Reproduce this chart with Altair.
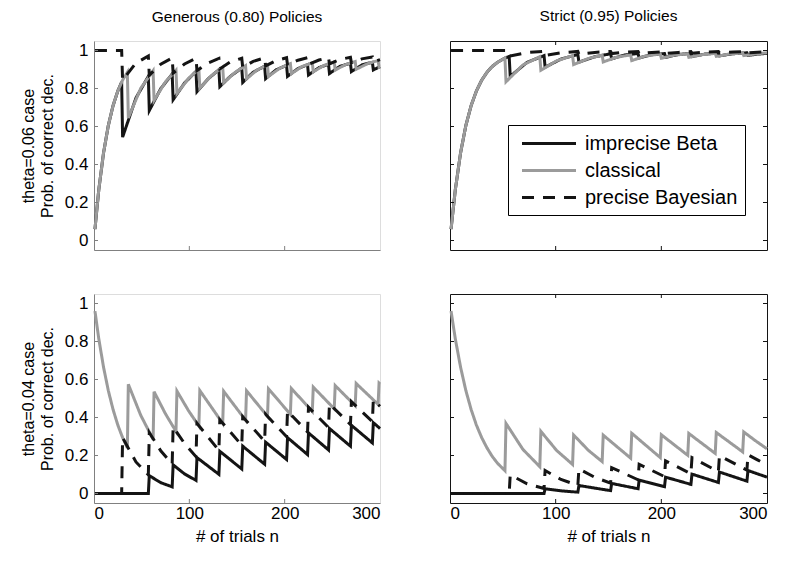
import altair as alt
import pandas as pd

# ---------------- data ----------------
# theta = 0.06 case, Generous (0.80) policy
TL_black_n = [1, 5, 10, 15, 20, 25, 29, 30, 44, 57, 58, 70, 82, 83, 95, 107, 108, 120, 131, 132, 143, 155,
              156, 167, 179, 180, 191, 202, 203, 214, 224, 225, 236, 246, 247, 258, 269, 270, 281, 292, 293, 300]
TL_black_v = [0.06, 0.266, 0.461, 0.605, 0.710, 0.787, 0.834, 0.544, 0.750, 0.864, 0.684, 0.799, 0.876,
              0.741, 0.829, 0.890, 0.783, 0.852, 0.899, 0.810, 0.864, 0.908, 0.832, 0.886, 0.917,
              0.852, 0.898, 0.922, 0.864, 0.905, 0.925, 0.871, 0.910, 0.928, 0.879, 0.917, 0.933,
              0.889, 0.924, 0.938, 0.898, 0.915]
TL_gray_n = [1, 5, 10, 15, 20, 25, 30, 35, 36, 49, 62, 63, 75, 86, 87, 99, 110, 111, 123, 135, 136, 148, 159,
             160, 171, 182, 183, 195, 206, 207, 218, 229, 230, 241, 252, 253, 264, 274, 275, 287, 298, 299, 300]
TL_gray_v = [0.06, 0.266, 0.461, 0.605, 0.710, 0.787, 0.844, 0.885, 0.645, 0.801, 0.893, 0.737, 0.835, 0.896,
             0.773, 0.852, 0.902, 0.802, 0.867, 0.913, 0.831, 0.885, 0.920, 0.851, 0.897, 0.924,
             0.864, 0.907, 0.931, 0.878, 0.915, 0.935, 0.888, 0.921, 0.940, 0.897, 0.926, 0.942,
             0.901, 0.931, 0.947, 0.913, 0.915]
TL_dash_n = [1, 29, 30, 44, 57, 58, 70, 82, 83, 95, 107, 108, 120, 131, 132, 143, 155, 156, 167, 179,
             180, 191, 202, 203, 214, 224, 225, 236, 246, 247, 258, 269, 270, 281, 292, 293, 300]
TL_dash_v = [1, 1, 0.844, 0.934, 0.971, 0.870, 0.928, 0.961, 0.881, 0.929, 0.959, 0.894, 0.934, 0.958,
             0.903, 0.940, 0.959, 0.911, 0.943, 0.961, 0.919, 0.947, 0.962, 0.924, 0.949, 0.962,
             0.927, 0.950, 0.962, 0.930, 0.953, 0.964, 0.935, 0.956, 0.966, 0.940, 0.952]

# theta = 0.04 case, Generous (0.80) policy
BL_black_n = [1, 57, 58, 70, 82, 83, 95, 107, 108, 131, 132, 155, 156, 179, 180, 202, 203, 224,
              225, 246, 247, 269, 270, 292, 293, 300]
BL_black_v = [0, 0, 0.094, 0.057, 0.035, 0.151, 0.103, 0.069, 0.189, 0.101, 0.222, 0.129, 0.249, 0.154,
              0.270, 0.179, 0.294, 0.205, 0.319, 0.229, 0.342, 0.249, 0.359, 0.266, 0.373, 0.342]
BL_gray_n = [1, 5, 10, 15, 20, 25, 30, 35, 36, 49, 62, 63, 75, 86, 87, 99, 110, 111, 135, 136, 159,
             160, 182, 183, 206, 207, 229, 230, 252, 253, 274, 275, 298, 299, 300]
BL_gray_v = [0.96, 0.815, 0.665, 0.542, 0.442, 0.360, 0.294, 0.240, 0.575, 0.412, 0.285, 0.536, 0.419, 0.327,
             0.539, 0.437, 0.355, 0.542, 0.369, 0.538, 0.386, 0.541, 0.406, 0.551, 0.417, 0.553, 0.432,
             0.560, 0.446, 0.568, 0.462, 0.579, 0.469, 0.581, 0.576]
BL_dash_n = [1, 29, 30, 44, 57, 58, 70, 82, 83, 95, 107, 108, 131, 132, 155, 156, 179, 180, 202,
             203, 224, 225, 246, 247, 269, 270, 292, 293, 300]
BL_dash_v = [0, 0, 0.294, 0.166, 0.098, 0.320, 0.225, 0.155, 0.350, 0.263, 0.194, 0.369, 0.227, 0.388, 0.254,
             0.404, 0.275, 0.417, 0.299, 0.434, 0.324, 0.454, 0.347, 0.472, 0.363, 0.483, 0.378, 0.493, 0.459]

# theta = 0.06 case, Strict (0.95) policy
TR_black_n = [1, 5, 10, 15, 20, 25, 30, 35, 40, 45, 52, 56, 57, 73, 89, 90, 105, 121, 122, 137, 152,
              153, 165, 178, 179, 191, 203, 204, 216, 228, 229, 241, 254, 255, 268, 281, 282, 291, 300]
TR_black_v = [0.06, 0.266, 0.461, 0.605, 0.710, 0.787, 0.844, 0.885, 0.916, 0.938, 0.960, 0.969,
              0.864, 0.938, 0.973, 0.912, 0.955, 0.979, 0.939, 0.967, 0.983, 0.956, 0.976, 0.984,
              0.961, 0.978, 0.984, 0.964, 0.979, 0.985, 0.968, 0.981, 0.987, 0.972, 0.983, 0.988,
              0.974, 0.981, 0.985]
TR_gray_n = [1, 5, 10, 15, 20, 25, 30, 35, 40, 45, 52, 53, 69, 85, 86, 101, 116, 117, 131, 144,
             145, 158, 171, 172, 185, 199, 200, 212, 225, 226, 238, 251, 252, 264, 277, 278, 289, 300]
TR_gray_v = [0.06, 0.266, 0.461, 0.605, 0.710, 0.787, 0.844, 0.885, 0.916, 0.938, 0.960,
             0.835, 0.924, 0.967, 0.896, 0.946, 0.973, 0.926, 0.958, 0.976, 0.940, 0.965, 0.977,
             0.947, 0.971, 0.982, 0.959, 0.975, 0.983, 0.964, 0.978, 0.985, 0.969, 0.981, 0.987,
             0.973, 0.982, 0.988]
TR_dash_n = [1, 56, 57, 73, 89, 90, 105, 121, 122, 137, 152, 153, 165, 178, 179, 191, 203,
             204, 216, 228, 229, 241, 254, 255, 268, 281, 282, 291, 300]
TR_dash_v = [1, 1, 0.971, 0.989, 0.996, 0.974, 0.988, 0.995, 0.980, 0.990, 0.995, 0.984, 0.991, 0.995,
             0.984, 0.990, 0.994, 0.985, 0.990, 0.994, 0.986, 0.991, 0.995, 0.987, 0.992, 0.995,
             0.988, 0.991, 0.994]

# theta = 0.04 case, Strict (0.95) policy
BR_black_n = [1, 89, 90, 105, 121, 122, 152, 153, 178, 179, 203, 204, 228, 229, 254, 255, 281, 282, 300]
BR_black_v = [0, 0, 0.025, 0.014, 0.007, 0.042, 0.015, 0.053, 0.025, 0.070, 0.036, 0.086, 0.048,
              0.102, 0.058, 0.113, 0.065, 0.121, 0.086]
BR_gray_n = [1, 5, 10, 15, 20, 25, 30, 35, 40, 45, 52, 53, 69, 85, 86, 101, 116, 117, 131, 144,
             145, 171, 172, 199, 200, 225, 226, 251, 252, 277, 278, 289, 300]
BR_gray_v = [0.96, 0.815, 0.665, 0.542, 0.442, 0.360, 0.294, 0.240, 0.195, 0.159, 0.120,
             0.369, 0.232, 0.141, 0.327, 0.226, 0.153, 0.308, 0.227, 0.168, 0.307, 0.186,
             0.317, 0.189, 0.309, 0.201, 0.316, 0.211, 0.321, 0.219, 0.324, 0.278, 0.235]
BR_dash_n = [1, 56, 57, 73, 89, 90, 105, 121, 122, 137, 152, 153, 178, 179, 203, 204, 228,
             229, 254, 255, 281, 282, 291, 300]
BR_dash_v = [0, 0, 0.098, 0.051, 0.026, 0.121, 0.074, 0.043, 0.130, 0.085, 0.055, 0.136, 0.072,
             0.154, 0.089, 0.172, 0.104, 0.189, 0.115, 0.199, 0.123, 0.204, 0.177, 0.151]

SERIES = ["imprecise Beta", "classical", "precise Bayesian"]
COL_TITLES = ["Generous (0.80) Policies", "Strict (0.95) Policies"]
ROW_TITLES = [["theta=0.06 case", "Prob. of correct dec."], ["theta=0.04 case", "Prob. of correct dec."]]
X_LABEL = "# of trials n"
X_TICKS = [0, 100, 200, 300]
Y_TICKS = [0, 0.2, 0.4, 0.6, 0.8, 1]

# ---------------- style ----------------
BLACK = "#141414"
GRAY = "#9b9b9b"
AXIS_GRAY = "#808080"
FONT = "Liberation Sans"
FS = 17
WIDTHS = [286, 317]
H = 209
TK = 4

xs = alt.Scale(domain=[0, 300], nice=False, zero=False)
ys = alt.Scale(domain=[-0.05, 1.05], nice=False, zero=False)
cs = alt.Scale(domain=SERIES, range=[BLACK, GRAY, BLACK])
ds = alt.Scale(domain=SERIES, range=[[1, 0], [1, 0], [12, 9]])


def frame(n, v, name):
    return pd.DataFrame({"n": n, "v": v, "series": name})


def panel(lines, row, col):
    left = col == 0
    bottom = row == 1
    W = WIDTHS[col]
    tick_col = AXIS_GRAY if left else BLACK
    if left:
        yaxis = alt.Axis(values=Y_TICKS, format=".1~f", ticks=False, grid=False, domainColor=AXIS_GRAY,
                         labelFontSize=FS, labelFont=FONT, labelColor="black", labelPadding=6,
                         title=ROW_TITLES[row], titleFontSize=16, titleFont=FONT, titleFontWeight="normal",
                         titleColor="black", titlePadding=9, titleLineHeight=19)
    else:
        yaxis = None
    if bottom:
        xaxis = alt.Axis(values=X_TICKS, ticks=False, grid=False, domain=left, domainColor=AXIS_GRAY,
                         labelFontSize=FS, labelFont=FONT, labelColor="black", labelPadding=2,
                         title=X_LABEL, titleFontSize=FS, titleFont=FONT, titleFontWeight="normal",
                         titleColor="black", titlePadding=7)
    elif left:
        xaxis = alt.Axis(values=X_TICKS, ticks=False, grid=False, labels=False, domainColor=AXIS_GRAY, title=None)
    else:
        xaxis = None

    if row == 0 and col == 1:
        leg = alt.Legend(title=None, orient="none", legendX=58, legendY=84, fillColor="white",
                         strokeColor="black", padding=7, labelFontSize=20, labelFont=FONT,
                         labelColor="black", symbolType="M-0.45,0H4.95", symbolSize=400, symbolStrokeWidth=3,
                         labelOffset=47, rowPadding=5, labelLimit=400, cornerRadius=0)
    else:
        leg = None

    layers = []
    for df in lines:
        layers.append(alt.Chart(df).mark_line(strokeWidth=3).encode(
            x=alt.X("n:Q", scale=xs, axis=xaxis),
            y=alt.Y("v:Q", scale=ys, axis=yaxis),
            color=alt.Color("series:N", scale=cs, legend=leg),
            strokeDash=alt.StrokeDash("series:N", scale=ds, legend=leg),
        ))

    ytdf = pd.DataFrame({"v": Y_TICKS})
    xtdf = pd.DataFrame({"n": X_TICKS[1:-1]})

    def yt(x0, x1):
        return alt.Chart(ytdf).mark_rule(color=tick_col, strokeWidth=1).encode(
            y=alt.Y("v:Q", scale=ys, axis=yaxis), x=alt.value(x0), x2=alt.value(x1))

    def xt(y0, y1):
        return alt.Chart(xtdf).mark_rule(color=tick_col, strokeWidth=1).encode(
            x=alt.X("n:Q", scale=xs, axis=xaxis), y=alt.value(y0), y2=alt.value(y1))

    layers += [yt(0, TK), xt(H, H - TK)]
    if not left:
        layers += [yt(W - TK, W), xt(0, TK)]

    props = dict(width=W, height=H)
    if row == 0:
        props["title"] = alt.TitleParams(text=COL_TITLES[col], fontSize=15.5, font=FONT, fontWeight="normal",
                                         color="black", anchor="middle", frame="group", offset=16)
    if not left:
        props["view"] = alt.ViewBackground(stroke=BLACK, strokeWidth=1, strokeOpacity=1)
    return alt.layer(*layers).properties(**props)


TL = panel([frame(TL_black_n, TL_black_v, SERIES[0]), frame(TL_gray_n, TL_gray_v, SERIES[1]),
            frame(TL_dash_n, TL_dash_v, SERIES[2])], 0, 0)
TR = panel([frame(TR_black_n, TR_black_v, SERIES[0]), frame(TR_gray_n, TR_gray_v, SERIES[1]),
            frame(TR_dash_n, TR_dash_v, SERIES[2])], 0, 1)
BL = panel([frame(BL_black_n, BL_black_v, SERIES[0]), frame(BL_gray_n, BL_gray_v, SERIES[1]),
            frame(BL_dash_n, BL_dash_v, SERIES[2])], 1, 0)
BR = panel([frame(BR_black_n, BR_black_v, SERIES[0]), frame(BR_gray_n, BR_gray_v, SERIES[1]),
            frame(BR_dash_n, BR_dash_v, SERIES[2])], 1, 1)

chart = alt.concat(TL, TR, BL, BR, columns=2, spacing={"row": 44, "column": 70}, bounds="flush").resolve_scale(
    color="independent", strokeDash="independent"
).properties(
    padding={"left": 11, "top": 0, "right": 0, "bottom": 0}
).configure_view(strokeWidth=0).configure(background="white")

chart.save("out.html", embed_options={"renderer": "svg", "actions": False})
